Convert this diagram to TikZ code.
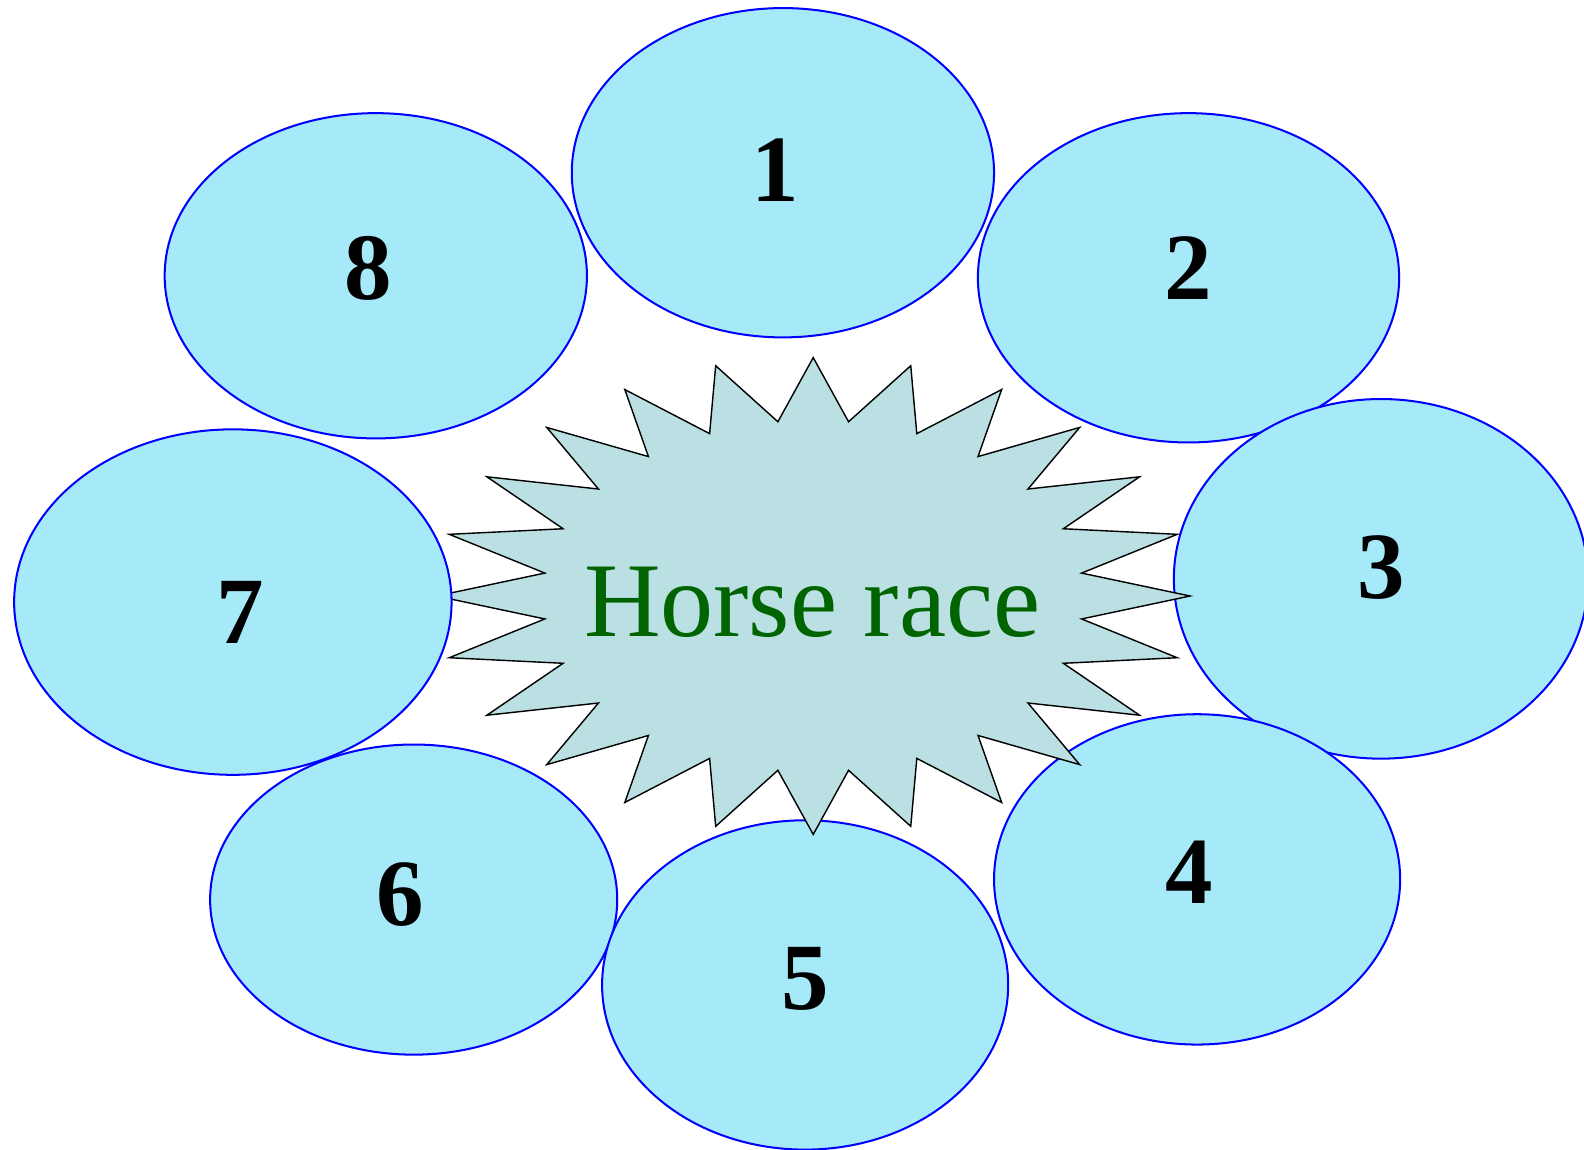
\documentclass[tikz,border=0pt]{standalone}
\usepackage{fontspec}
\setmainfont{Liberation Serif}
\usetikzlibrary{shapes.geometric}
\definecolor{ellfill}{RGB}{166,234,249}
\definecolor{ellline}{RGB}{0,0,255}
\definecolor{starfill}{RGB}{187,224,227}
\definecolor{txtgreen}{RGB}{0,100,0}
\tikzset{
  ell/.style 2 args={ellipse, draw=ellline, fill=ellfill, line width=1pt, inner sep=0pt,
    minimum width={0.5pt*#1}, minimum height={0.5pt*#2}},
  num/.style={anchor=base, inner sep=0pt, font=\fontsize{47}{50}\selectfont\bfseries},
  burst/.style={draw=black, fill=starfill, line width=0.7pt, line join=miter},
  title/.style={anchor=base, inner sep=0pt, text=txtgreen, font=\fontsize{52.5}{56}\selectfont}
}
\begin{document}
\begin{tikzpicture}[x=0.5pt, y=-0.5pt]
\useasboundingbox (0,0) rectangle (1568,1138);
% ellipses (drawing order matters for overlaps)
\node[ell={418}{326}] (e1) at (775,171) {};
\node[ell={417}{326}] (e2) at (1176.5,275) {};
\node[ell={418}{322}] (e8) at (372,273) {};
\node[ell={410}{356}] (e3) at (1367,573) {};
\node[ell={402}{327}] (e4) at (1185,870.5) {};
\node[ell={403}{307}] (e6) at (409.5,890.5) {};
\node[ell={402}{326}] (e5) at (797,975) {};
% starburst
\draw[burst] (805,354)
  \foreach \j in {1,...,23}{
    -- ({805+268*sin(\j*15-7.5)},{590-174*cos(\j*15-7.5)})
    -- ({805+373*sin(\j*15)},{590-236*cos(\j*15)})
  }
  -- ({805+268*sin(352.5)},{590-174*cos(352.5)}) -- cycle;
\node[title] (center) at (804,630) {Horse race};
\node[ell={433}{342}] (e7) at (230.5,596) {};
% numbers
\node[num] (n1) at (767,199) {1};
\node[num] (n2) at (1176,296) {2};
\node[num] (n3) at (1367,592) {3};
\node[num] (n4) at (1177,894) {4};
\node[num] (n5) at (797,999) {5};
\node[num] (n6) at (396,916) {6};
\node[num] (n7) at (238,637) {7};
\node[num] (n8) at (365,296) {8};
\end{tikzpicture}
\end{document}
